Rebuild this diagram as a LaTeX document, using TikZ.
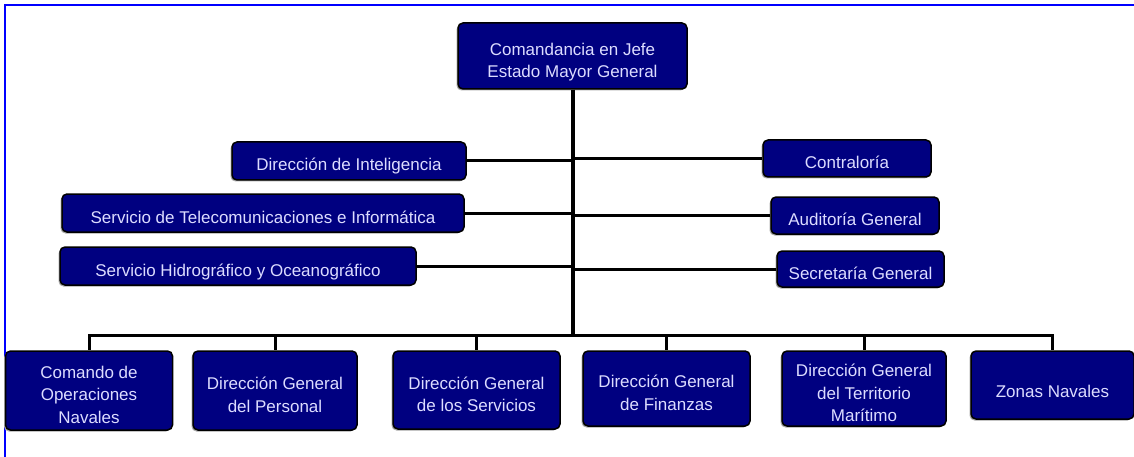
\documentclass[tikz,border=0pt]{standalone}
\usepackage{fontspec}
\setmainfont{Liberation Sans}
\usetikzlibrary{shadows}
\definecolor{azulnavy}{RGB}{0,0,128}
\definecolor{lila}{RGB}{220,220,255}
\definecolor{marco}{RGB}{0,0,255}
\begin{document}
\begin{tikzpicture}[x=1pt,y=-1pt,
    unidad/.style={draw=black,line width=1.5pt,fill=azulnavy,text=lila,
      rounded corners=5pt,align=center,inner sep=0pt,
      font=\fontsize{17}{22.5}\selectfont,
      drop shadow={shadow xshift=-1.5pt,shadow yshift=-1.5pt,fill=gray!70,opacity=1}},
    uno/.style={unidad,text height=20pt,text depth=0pt},
    dos/.style={unidad,text height=43pt,text depth=0pt},
    tres/.style={unidad,text height=66pt,text depth=0pt},
    enlace/.style={line width=3pt},
    tronco/.style={line width=4pt}]
   \useasboundingbox (0,0) rectangle (1134,457);
   \draw[marco,line width=2pt] (5,457)--(5,5)--(1134,5);
   \node[dos,text height=44pt,minimum width=229pt,minimum height=66pt] (jefe) at (572.5,56) {Comandancia en Jefe\\Estado Mayor General};
   \node[uno,minimum width=234pt,minimum height=38pt] (intel) at (349,161) {Dirección de Inteligencia};
   \node[uno,minimum width=402pt,minimum height=38pt] (telecom) at (263,213) {Servicio de Telecomunicaciones e Informática};
   \node[uno,minimum width=356pt,minimum height=38pt] (hidro) at (238,266) {Servicio Hidrográfico y Oceanográfico};
   \node[uno,minimum width=168pt,minimum height=37pt] (contra) at (847,158.5) {Contraloría};
   \node[uno,minimum width=168pt,minimum height=37pt] (audit) at (855,215.5) {Auditoría General};
   \node[uno,minimum width=167pt,minimum height=36pt] (secre) at (860.5,269) {Secretaría General};
   \node[tres,text height=65pt,minimum width=167pt,minimum height=79pt] (comando) at (89,390.5) {Comando de\\Operaciones\\Navales};
   \node[dos,minimum width=164pt,minimum height=79pt] (personal) at (275,390.5) {Dirección General\\del Personal};
   \node[dos,minimum width=167pt,minimum height=78pt] (servicios) at (476.5,390) {Dirección General\\de los Servicios};
   \node[dos,minimum width=167pt,minimum height=75pt] (finanzas) at (666.5,388.5) {Dirección General\\de Finanzas};
   \node[tres,minimum width=164pt,minimum height=75pt] (territorio) at (864,388.5) {Dirección General\\del Territorio\\Marítimo};
   \node[uno,text height=24pt,minimum width=163pt,minimum height=68pt] (zonas) at (1052.5,385) {Zonas Navales};
   \coordinate (bus) at (572.5,335);
   \draw[tronco] (jefe.south) -- (bus);
   \draw[enlace] (intel.east) -- (intel.east -| jefe.south);
   \draw[enlace] (telecom.east) -- (telecom.east -| jefe.south);
   \draw[enlace] (hidro.east) -- (hidro.east -| jefe.south);
   \draw[enlace] (contra.west) -- (contra.west -| jefe.south);
   \draw[enlace] (audit.west) -- (audit.west -| jefe.south);
   \draw[enlace] (secre.west) -- (secre.west -| jefe.south);
   \draw[enlace,line cap=rect] (comando.north |- bus) -- (zonas.north |- bus);
   \foreach \n in {comando,personal,servicios,finanzas,territorio,zonas}
      \draw[enlace] (\n.north |- bus) -- (\n.north);
\end{tikzpicture}
\end{document}
